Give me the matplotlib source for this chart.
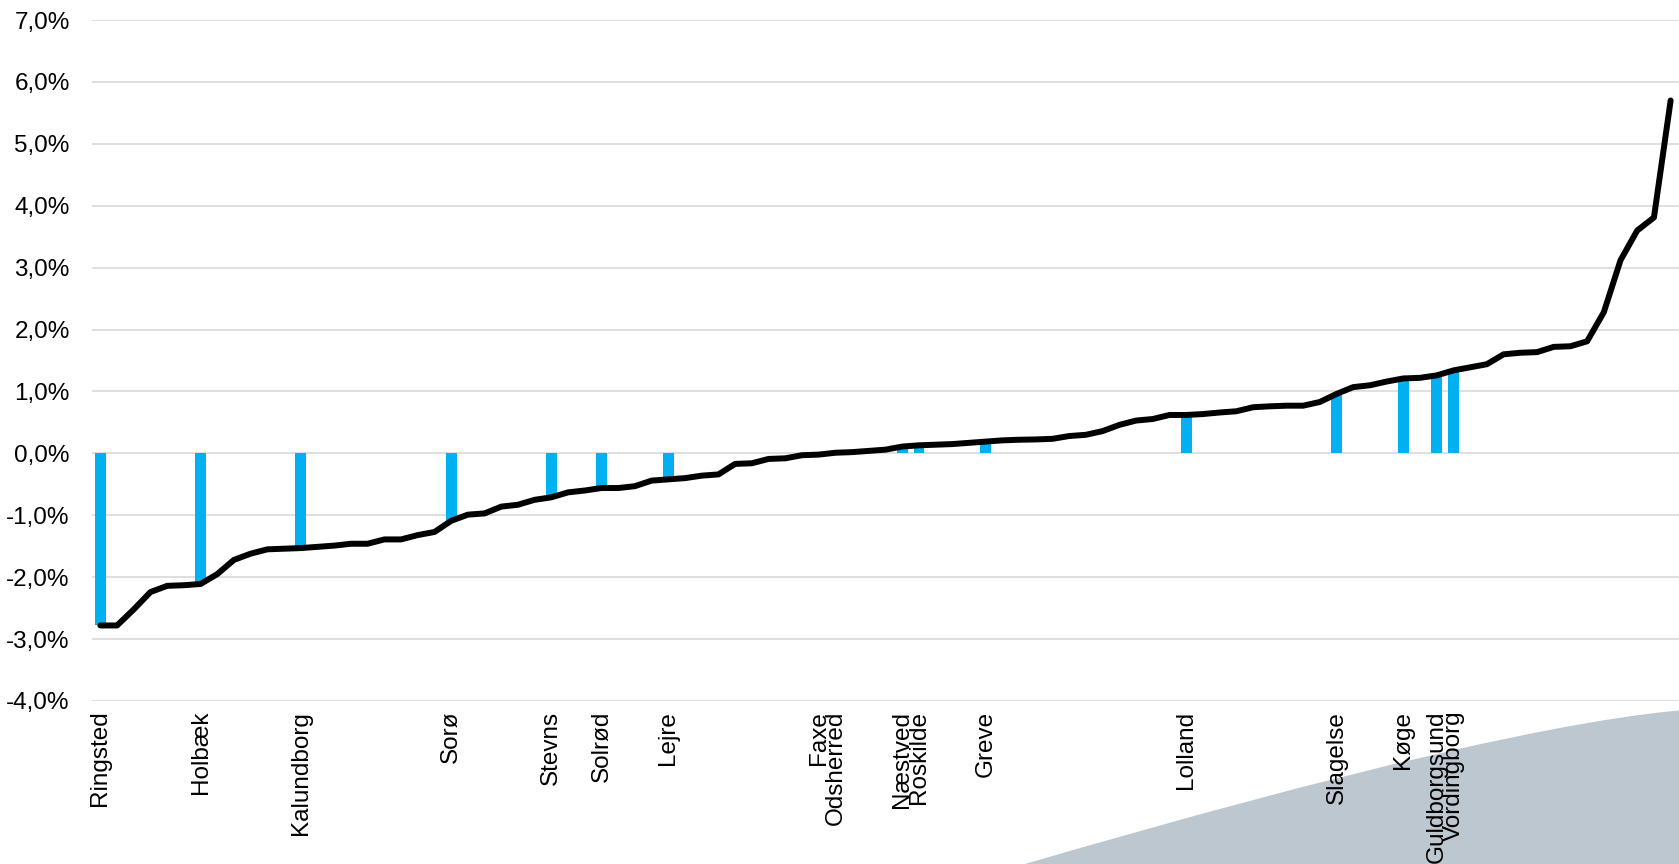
import matplotlib
matplotlib.use("Agg")
import matplotlib.pyplot as plt
from matplotlib.path import Path
from matplotlib.patches import PathPatch
from matplotlib.ticker import FuncFormatter

# all municipalities sorted by value (%), black line
values = [-2.78, -2.78, -2.52, -2.24, -2.14, -2.13, -2.11, -1.95, -1.72, -1.62,
          -1.55, -1.54, -1.53, -1.51, -1.49, -1.46, -1.46, -1.39, -1.39, -1.32,
          -1.27, -1.09, -0.99, -0.97, -0.86, -0.83, -0.75, -0.71, -0.63, -0.60,
          -0.56, -0.56, -0.53, -0.44, -0.42, -0.40, -0.36, -0.34, -0.17, -0.16,
          -0.09, -0.08, -0.03, -0.02, 0.01, 0.02, 0.04, 0.06, 0.11, 0.13,
          0.14, 0.15, 0.17, 0.19, 0.21, 0.22, 0.225, 0.235, 0.28, 0.30,
          0.36, 0.46, 0.53, 0.555, 0.62, 0.62, 0.635, 0.66, 0.68, 0.745,
          0.76, 0.77, 0.77, 0.83, 0.96, 1.07, 1.10, 1.16, 1.21, 1.22,
          1.26, 1.34, 1.39, 1.44, 1.60, 1.625, 1.635, 1.72, 1.73, 1.81,
          2.28, 3.12, 3.60, 3.81, 5.70]

# Region Sjælland municipalities (blue bars) and their place in the ranking
names = ["Ringsted", "Holbæk", "Kalundborg", "Sorø", "Stevns", "Solrød", "Lejre",
         "Faxe", "Odsherred", "Næstved", "Roskilde", "Greve", "Lolland",
         "Slagelse", "Køge", "Guldborgsund", "Vordingborg"]
positions = [0, 6, 12, 21, 27, 30, 34, 43, 44, 48, 49, 53, 65, 74, 78, 80, 81]

plt.rcParams['font.family'] = ['Liberation Sans', 'DejaVu Sans']

W, H = 1679, 864
fig = plt.figure(figsize=(W / 100, H / 100), dpi=100)

# decorative grey swoosh bottom right
verts = [(1025 / W, 0.0), (1510 / W, 1 - 722 / H), (1.01, 1 - 709 / H),
         (1.01, -0.01), (1025 / W, -0.01), (1025 / W, 0.0)]
codes = [Path.MOVETO, Path.CURVE3, Path.CURVE3, Path.LINETO, Path.LINETO, Path.CLOSEPOLY]
swoosh = PathPatch(Path(verts, codes), facecolor="#BDC7D0", edgecolor="none",
                   transform=fig.transFigure, zorder=-5)
fig.patches.append(swoosh)

ax = fig.add_axes([92 / W, (H - 701) / H, 1 - 92 / W, (701 - 20) / H])
ax.set_facecolor("none")

x = list(range(len(values)))
bar_vals = [values[p] for p in positions]
ax.bar(positions, bar_vals, width=0.64, color="#00B0F0", zorder=2)
ax.plot(x, values, color="black", linewidth=4.3, zorder=3,
        solid_capstyle="round", solid_joinstyle="round")

ax.set_xlim(-0.5, len(values) - 0.5)
ax.set_ylim(-4, 7)
ax.set_yticks(range(-4, 8))
ax.yaxis.set_major_formatter(FuncFormatter(lambda v, p: "{:.1f}%".format(v).replace(".", ",")))
ax.set_xticks(positions)
ax.set_xticklabels(names, rotation=90)

ax.tick_params(axis="y", length=0, pad=16, labelsize=17.5)
ax.tick_params(axis="x", length=0, pad=7, labelsize=17.5)
ax.grid(axis="y", color="#D9D9D9", linewidth=1.2, zorder=0)
ax.set_axisbelow(True)
for s in ax.spines.values():
    s.set_visible(False)

fig.savefig("out.png", dpi=100)
